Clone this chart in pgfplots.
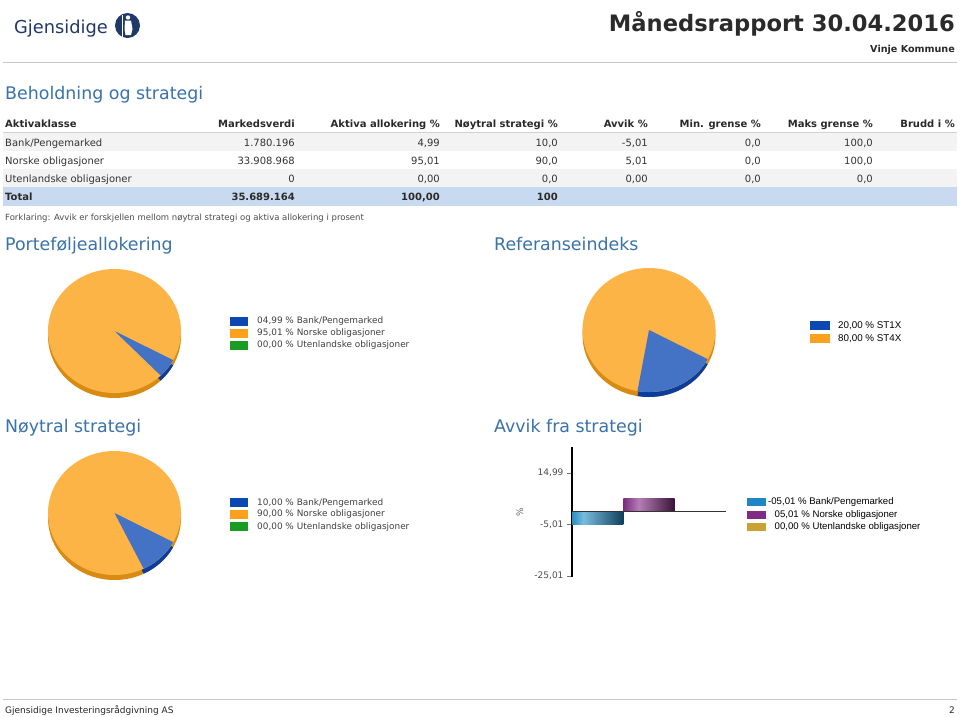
\documentclass[border=0pt]{standalone}
\usepackage{pgfplots}
\pgfplotsset{compat=1.18}
\usepackage{fontspec}
\setmainfont{DejaVu Sans}
\newfontfamily\arialf{Liberation Sans}
\newcommand\fs[1]{\fontsize{#1}{#1}\selectfont}
\definecolor{titleblue}{HTML}{3A72AA}
\definecolor{logonavy}{HTML}{1F3A68}
\definecolor{rulegray}{HTML}{C8C8C8}
\definecolor{rowgray}{HTML}{F3F3F3}
\definecolor{totalblue}{HTML}{C7DAEF}
\definecolor{pieor}{HTML}{FDB446}
\definecolor{pieorside}{HTML}{D98A10}
\definecolor{piebl}{HTML}{4472C4}
\definecolor{pieblside}{HTML}{0B3D9E}
\definecolor{legbl}{HTML}{0B48B2}
\definecolor{legor}{HTML}{FBA11E}
\definecolor{leggr}{HTML}{1A9B22}
\definecolor{avbl}{HTML}{1E86C4}
\definecolor{avpu}{HTML}{7E2C86}
\definecolor{avgo}{HTML}{C9A233}
\definecolor{txt}{HTML}{2A2A2A}
\definecolor{bA}{HTML}{2A8DC0}
\definecolor{bB}{HTML}{78BCDD}
\definecolor{bC}{HTML}{103F5C}
\definecolor{pA}{HTML}{7A2C7E}
\definecolor{pB}{HTML}{B47EB6}
\definecolor{pC}{HTML}{3A1236}
\pgfdeclarehorizontalshading{blueshade}{100bp}{color(0bp)=(bA); color(25bp)=(bA); color(36bp)=(bB); color(75bp)=(bC); color(100bp)=(bC)}
\pgfdeclarehorizontalshading{purpleshade}{100bp}{color(0bp)=(pA); color(25bp)=(pA); color(40bp)=(pB); color(75bp)=(pC); color(100bp)=(pC)}

% pie data (percent of the blue slice)
\def\pieA{4.99}
\def\pieB{20.00}
\def\pieC{10.00}

\newcommand\trow[9]{%
  \node[anchor=base west,inner sep=0] at (5,-#1) {#2};
  \node[anchor=base east,inner sep=0] at (295,-#1) {#3};
  \node[anchor=base east,inner sep=0] at (440,-#1) {#4};
  \node[anchor=base east,inner sep=0] at (558,-#1) {#5};
  \node[anchor=base east,inner sep=0] at (648,-#1) {#6};
  \node[anchor=base east,inner sep=0] at (761,-#1) {#7};
  \node[anchor=base east,inner sep=0] at (873,-#1) {#8};
  \node[anchor=base east,inner sep=0] at (955,-#1) {#9};}

\newcommand\pieaxis[4]{% center x, center y, blue percent, end-angle macro
\begin{axis}[at={(#1pt,-#2pt)}, anchor=center, scale only axis, width=133pt, height=124pt,
  hide axis, xmin=-1, xmax=1, ymin=-1, ymax=1, clip=false]
  \fill[pieorside] ([yshift=-5pt]axis cs:0,0) ellipse[x radius=66.5pt, y radius=62pt];
  \fill[pieblside] ([yshift=-5pt]axis cs:0,0) -- ++(-28:66.5pt and 62pt)
     arc[start angle=-28, end angle=#4, x radius=66.5pt, y radius=62pt] -- cycle;
  \fill[pieor] (axis cs:0,0) ellipse[x radius=66.5pt, y radius=62pt];
  \fill[piebl] (axis cs:0,0) -- ++(-28:66.5pt and 62pt)
     arc[start angle=-28, end angle=#4, x radius=66.5pt, y radius=62pt] -- cycle;
\end{axis}}

\begin{document}
\begin{tikzpicture}[x=1pt,y=1pt]
\useasboundingbox (0,0) rectangle (960,-716);
\fill[white] (0,0) rectangle (960,-716);

% ---- header
\node[anchor=base west,inner sep=0,text=logonavy] at (14,-33) {\fs{17.8}Gjensidige};
\fill[logonavy] (127.5,-25.5) circle (12.5);
\fill[white] (128,-17.5) circle (2.2);
\fill[white] (125,-20.5) -- (131,-20.5) -- (132.5,-29) -- (131,-35) -- (125.5,-35) -- (124.5,-29) -- cycle;
\draw[white,line width=0.9pt] (122.5,-15) -- (122.5,-37);
\node[anchor=base east,inner sep=0,text=txt] at (955,-31) {\fs{22.6}\bfseries Månedsrapport 30.04.2016};
\node[anchor=base east,inner sep=0,text=txt] at (955,-52) {\fs{9.6}\bfseries Vinje Kommune};
\draw[rulegray,line width=1pt] (3,-62) -- (957,-62);

\node[anchor=base west,inner sep=0,text=titleblue] at (5,-99) {\fs{17.4}Beholdning og strategi};

% ---- table
\fill[rowgray] (3,-133) rectangle (957,-151);
\fill[rowgray] (3,-169) rectangle (957,-187);
\fill[totalblue] (3,-187) rectangle (957,-205.5);
\draw[black!18,line width=1pt] (3,-132.5) -- (957,-132.5);
\begin{scope}[every node/.style={font=\fs{10}\bfseries, text=txt}]
\trow{127.5}{Aktivaklasse}{Markedsverdi}{Aktiva allokering \%}{Nøytral strategi \%}{Avvik \%}{Min. grense \%}{Maks grense \%}{Brudd i \%}
\end{scope}
\begin{scope}[every node/.style={font=\fs{10}, text=black!80}]
\trow{146}{Bank/Pengemarked}{1.780.196}{4,99}{10,0}{-5,01}{0,0}{100,0}{}
\trow{164}{Norske obligasjoner}{33.908.968}{95,01}{90,0}{5,01}{0,0}{100,0}{}
\trow{182}{Utenlandske obligasjoner}{0}{0,00}{0,0}{0,00}{0,0}{0,0}{}
\end{scope}
\begin{scope}[every node/.style={font=\fs{10}\bfseries, text=txt}]
\trow{200}{Total}{35.689.164}{100,00}{100}{}{}{}{}
\end{scope}
\node[anchor=base west,inner sep=0,text=black!70] at (5,-220.5) {\fs{8.5}Forklaring: Avvik er forskjellen mellom nøytral strategi og aktiva allokering i prosent};

% ---- section titles
\node[anchor=base west,inner sep=0,text=titleblue] at (5,-250) {\fs{17.4}Porteføljeallokering};
\node[anchor=base west,inner sep=0,text=titleblue] at (494,-250) {\fs{17.4}Referanseindeks};
\node[anchor=base west,inner sep=0,text=titleblue] at (5,-432) {\fs{17.4}Nøytral strategi};
\node[anchor=base west,inner sep=0,text=titleblue] at (494,-432) {\fs{17.4}Avvik fra strategi};

% ---- pies
\pgfmathsetmacro\endA{-28-3.6*\pieA}
\pgfmathsetmacro\endB{-28-3.6*\pieB}
\pgfmathsetmacro\endC{-28-3.6*\pieC}
\pieaxis{114.5}{331}{\pieA}{\endA}
\pieaxis{649}{330}{\pieB}{\endB}
\pieaxis{114.5}{513}{\pieC}{\endC}

% pie legends
\begin{scope}[every node/.style={font=\fs{8.9}, text=black!75, inner sep=0, anchor=mid west}]
\fill[legbl] (230,-316.5) rectangle (248,-325.5); \node at (257,-321) {04,99 \% Bank/Pengemarked};
\fill[legor] (230,-328.5) rectangle (248,-337.5); \node at (257,-333) {95,01 \% Norske obligasjoner};
\fill[leggr] (230,-340.5) rectangle (248,-349.5); \node at (257,-345) {00,00 \% Utenlandske obligasjoner};
\fill[legbl] (230,-497.8) rectangle (248,-506.8); \node at (257,-502.3) {10,00 \% Bank/Pengemarked};
\fill[legor] (230,-509.5) rectangle (248,-518.5); \node at (257,-514) {90,00 \% Norske obligasjoner};
\fill[leggr] (230,-522.2) rectangle (248,-531.2); \node at (257,-526.7) {00,00 \% Utenlandske obligasjoner};
\end{scope}
\begin{scope}[every node/.style={font=\arialf\fs{9.8}, text=black, inner sep=0, anchor=mid west}]
\fill[legbl] (810,-321.3) rectangle (830,-330.3); \node at (838,-325.8) {20,00 \% ST1X};
\fill[legor] (810,-334) rectangle (830,-343); \node at (838,-338.5) {80,00 \% ST4X};
\end{scope}
\begin{scope}[every node/.style={font=\arialf\fs{9.6}, text=black, inner sep=0, anchor=mid west}]
\fill[avbl] (747,-498) rectangle (766,-506); \node at (768,-502) {-05,01 \% Bank/Pengemarked};
\fill[avpu] (747,-510.5) rectangle (766,-518.5); \node at (774.5,-514.5) {05,01 \% Norske obligasjoner};
\fill[avgo] (747,-523) rectangle (766,-531); \node at (774.5,-527) {00,00 \% Utenlandske obligasjoner};
\end{scope}

% ---- deviation bar chart
\begin{axis}[at={(572pt,-577pt)}, anchor=south west, scale only axis, width=154pt, height=130pt,
  xmin=-0.5, xmax=2.5, ymin=-25.4, ymax=25.1,
  axis x line=none, axis y line*=left,
  y axis line style={line width=1.6pt, black, -},
  ytick={-25.01,-5.01,14.99}, yticklabels={{-25,01},{-5,01},{14,99}},
  xtick=\empty,
  tick align=outside, major tick length=5pt,
  ytick style={black!55, line width=0.6pt},
  yticklabel style={font=\fs{9}, text=black!70},
  ylabel={\%}, ylabel style={font=\fs{9}, text=black!60, at={(axis description cs:-0.338,0.5)}, anchor=center},
  /pgf/number format/assume math mode=true,
  ybar, bar width=51.3pt, bar shift=0pt, clip=false]
\addplot[draw=none, shade, shading=blueshade] coordinates {(0,-5.01)};
\addplot[draw=none, shade, shading=purpleshade] coordinates {(1,5.01)};
\addplot[draw=none, fill=avgo] coordinates {(2,0)};
\addplot[sharp plot, no marks, black!80, line width=1.3pt, forget plot] coordinates {(-0.5,0) (2.5,0)};
\end{axis}

% ---- footer
\draw[rulegray,line width=1pt] (3,-699) -- (957,-699);
\node[anchor=base west,inner sep=0,text=black!85] at (5,-713) {\fs{9}Gjensidige Investeringsrådgivning AS};
\node[anchor=base east,inner sep=0,text=black!85] at (955,-713) {\fs{9}2};
\end{tikzpicture}
\end{document}
